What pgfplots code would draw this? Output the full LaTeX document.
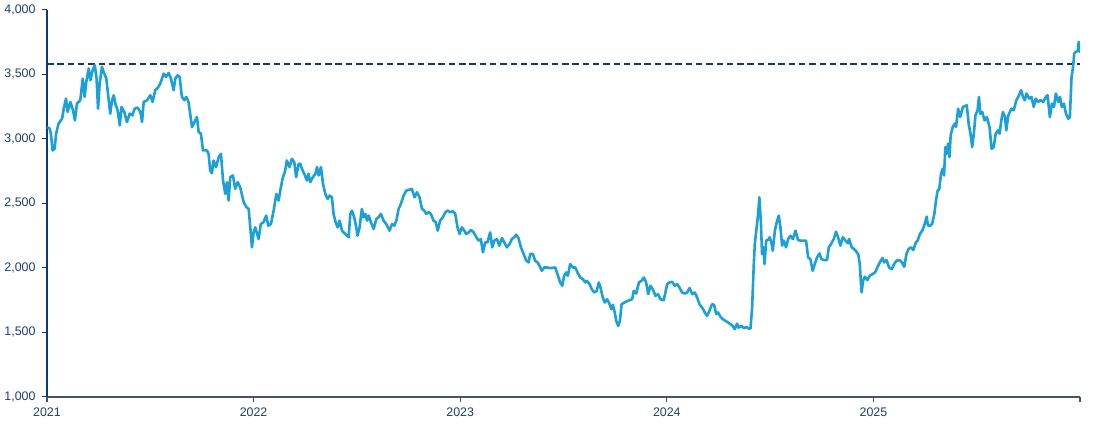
\documentclass[border=0pt]{standalone}
\usepackage{fontspec}
\setmainfont{Liberation Sans}
\usepackage{pgfplots}
\pgfplotsset{compat=1.18}
\definecolor{linecol}{HTML}{1BA1D9}
\definecolor{navy}{HTML}{0E3A7C}
\definecolor{ticktxt}{HTML}{1F3B78}
\definecolor{xaxcol}{HTML}{44546A}

\begin{document}
\begin{tikzpicture}
\begin{axis}[
    scale only axis,
    width=1033pt, height=387pt,
    xmin=0, xmax=5, ymin=1000, ymax=4000,
    axis x line*=bottom, axis y line*=left,
    x axis line style={-, draw=xaxcol, line width=2pt},
    y axis line style={-, draw=navy, line width=1.1pt},
    tick align=outside,
    major tick length=5.5pt,
    x tick style={draw=xaxcol, line width=1.2pt},
    y tick style={draw=navy, line width=1pt},
    xtick={0,1,2,3,4,5},
    xticklabels={2021,2022,2023,2024,2025,{}},
    ytick={1000,1500,2000,2500,3000,3500,4000},
    tick label style={font=\fontsize{12.4}{14}\selectfont, text=ticktxt},
    yticklabel style={xshift=-2.5pt},
    xticklabel style={yshift=-2.5pt},
    /pgf/number format/assume math mode=true,
    /pgf/number format/1000 sep={,},
]
% dashed reference level
\addplot[navy, line width=1.9pt, dash pattern=on 6.5pt off 3.8pt] coordinates {(0,3580) (5,3580)};

% index level (x = years since start of 2021)
\addplot[linecol, line width=2.6pt, line join=round] coordinates {
(0,3090)(.013,3078)(.019,3039)(.027,2909)(.037,2922)(.044,3039)(.056,3117)(.073,3155)(.081,3233)(.092,3311)
(.100,3207)(.113,3285)(.126,3220)(.135,3142)(.145,3272)(.161,3298)(.173,3466)(.182,3324)(.190,3440)(.202,3544)
(.210,3453)(.221,3531)(.231,3570)(.240,3466)(.247,3233)(.255,3427)(.266,3557)(.274,3518)(.287,3466)(.297,3324)
(.306,3194)(.315,3298)(.323,3337)(.331,3272)(.342,3220)(.352,3103)(.361,3246)(.374,3207)(.387,3129)(.400,3194)
(.413,3181)(.424,3233)(.439,3241)(.452,3207)(.460,3129)(.468,3285)(.484,3298)(.500,3337)(.511,3285)(.524,3376)
(.537,3396)(.548,3427)(.565,3505)(.576,3479)(.589,3510)(.600,3466)(.613,3376)(.621,3466)(.632,3492)(.642,3479)
(.653,3324)(.665,3298)(.674,3324)(.685,3285)(.694,3181)(.702,3090)(.718,3142)(.726,3168)(.734,3052)(.745,3039)
(.755,2909)(.774,2909)(.782,2883)(.790,2754)(.798,2733)(.806,2831)(.818,2780)(.831,2857)(.842,2883)(.852,2676)
(.863,2572)(.871,2663)(.879,2521)(.887,2702)(.900,2715)(.911,2611)(.923,2663)(.935,2624)(.952,2508)(.965,2469)
(.976,2456)(.984,2313)(.992,2158)(1.000,2274)(1.008,2313)(1.024,2222)(1.035,2339)(1.048,2352)(1.061,2404)(1.071,2326)
(1.084,2339)(1.097,2443)(1.110,2572)(1.121,2521)(1.129,2598)(1.140,2689)(1.153,2754)(1.161,2831)(1.174,2780)(1.185,2844)
(1.197,2818)(1.206,2702)(1.218,2805)
(1.226,2806)(1.234,2767)(1.245,2728)(1.258,2676)(1.266,2728)(1.274,2663)(1.287,2702)(1.299,2728)(1.307,2780)(1.315,2715)
(1.326,2780)(1.336,2650)(1.347,2572)(1.358,2533)(1.368,2559)(1.379,2546)(1.387,2417)(1.397,2352)(1.407,2313)(1.416,2365)
(1.428,2287)(1.444,2261)(1.460,2236)(1.468,2417)(1.476,2443)(1.487,2391)(1.497,2313)(1.503,2248)(1.513,2313)(1.524,2456)
(1.532,2391)(1.541,2417)(1.549,2365)(1.557,2404)(1.568,2352)(1.581,2300)(1.594,2378)(1.605,2391)(1.616,2417)(1.629,2365)
(1.642,2339)(1.658,2287)(1.670,2339)(1.681,2326)(1.691,2365)(1.702,2456)(1.713,2495)(1.726,2559)(1.739,2598)(1.750,2603)
(1.766,2611)(1.779,2546)(1.791,2585)(1.803,2546)(1.815,2456)(1.826,2443)(1.836,2417)(1.847,2430)(1.858,2417)(1.871,2365)
(1.882,2352)(1.891,2287)(1.903,2365)(1.916,2391)(1.928,2430)(1.939,2443)(1.952,2430)(1.965,2438)(1.976,2417)(1.987,2313)
(1.997,2261)(2.008,2313)(2.020,2287)(2.029,2261)(2.041,2274)(2.052,2292)(2.065,2274)(2.078,2236)(2.089,2210)(2.100,2222)
(2.110,2119)(2.121,2197)(2.132,2197)(2.145,2274)(2.155,2158)(2.165,2210)(2.178,2222)(2.189,2171)(2.202,2230)(2.213,2197)
(2.226,2158)(2.239,2184)(2.250,2222)(2.261,2236)(2.271,2256)(2.282,2230)(2.294,2158)(2.307,2106)(2.320,2054)(2.331,2041)
(2.339,2106)(2.352,2106)(2.363,2054)(2.374,2041)(2.384,2015)(2.395,1976)(2.407,2002)(2.419,2002)(2.439,1997)(2.460,2002)
(2.471,1950)(2.484,1886)(2.494,1860)(2.503,1937)(2.513,1963)(2.521,1937)(2.532,2028)(2.545,2002)(2.557,2002)(2.568,1963)
(2.581,1924)(2.594,1911)(2.605,1886)(2.613,1898)(2.626,1873)(2.637,1834)(2.648,1808)(2.661,1821)
(2.671,1886)(2.679,1847)(2.690,1769)(2.700,1730)(2.711,1756)(2.723,1717)(2.732,1678)(2.739,1712)(2.748,1653)(2.755,1588)
(2.765,1549)(2.773,1588)(2.781,1717)(2.800,1735)(2.819,1748)(2.832,1756)(2.840,1821)(2.852,1800)(2.865,1886)(2.877,1898)
(2.889,1924)(2.900,1886)(2.910,1795)(2.921,1860)(2.932,1834)(2.945,1782)(2.958,1795)(2.969,1756)(2.985,1748)(3.002,1873)
(3.013,1886)(3.026,1891)(3.039,1860)(3.050,1873)(3.061,1847)(3.074,1808)(3.087,1800)(3.098,1808)(3.110,1842)(3.123,1795)
(3.135,1808)(3.147,1769)(3.158,1717)(3.171,1691)(3.184,1653)(3.195,1627)(3.206,1665)(3.219,1717)(3.229,1712)(3.239,1640)
(3.248,1653)(3.260,1619)(3.271,1601)(3.284,1588)(3.297,1575)(3.308,1562)(3.319,1549)(3.329,1523)(3.340,1567)(3.348,1536)
(3.361,1549)(3.373,1531)(3.384,1541)(3.397,1528)(3.405,1528)(3.413,1691)(3.421,2028)(3.426,2184)(3.435,2313)(3.442,2417)
(3.448,2546)(3.455,2365)(3.461,2106)(3.468,2158)(3.473,2028)(3.481,2210)(3.490,2215)(3.498,2236)(3.506,2197)(3.513,2132)
(3.523,2287)(3.532,2352)(3.542,2404)(3.550,2313)(3.558,2171)(3.566,2210)(3.577,2158)(3.587,2222)(3.598,2248)(3.610,2222)
(3.623,2287)(3.635,2215)(3.647,2210)(3.663,2210)(3.674,2210)(3.684,2080)(3.695,2067)(3.706,1976)(3.716,2028)(3.727,2080)
(3.739,2111)(3.748,2067)(3.760,2060)(3.776,2060)(3.784,2158)(3.795,2184)(3.808,2222)(3.819,2279)(3.829,2236)(3.840,2171)
(3.852,2236)(3.865,2210)(3.877,2189)
(3.882,2223)(3.895,2158)(3.906,2145)(3.917,2127)(3.927,2101)(3.934,2028)(3.940,1873)(3.943,1808)(3.950,1899)(3.959,1930)
(3.971,1904)(3.982,1937)(3.995,1950)(4.008,1963)(4.019,2002)(4.031,2041)(4.044,2075)(4.052,2041)(4.063,2060)(4.076,2002)
(4.089,1989)(4.100,2028)(4.112,2054)(4.125,2060)(4.138,2041)(4.149,2007)(4.160,2106)(4.170,2145)(4.182,2158)(4.193,2137)
(4.206,2197)(4.214,2210)(4.225,2261)(4.238,2292)(4.248,2339)(4.258,2396)(4.264,2326)(4.274,2326)(4.284,2339)(4.295,2417)
(4.303,2521)(4.311,2598)(4.319,2611)(4.327,2728)(4.335,2767)(4.342,2715)(4.348,2935)(4.355,2883)(4.361,2961)(4.368,2857)
(4.374,3026)(4.384,3091)(4.394,3117)(4.400,3091)(4.410,3233)(4.420,3168)(4.433,3246)(4.452,3259)(4.462,3103)(4.470,3039)
(4.478,2935)(4.486,3039)(4.494,3181)(4.504,3220)(4.511,3324)(4.517,3194)(4.527,3207)(4.538,3142)(4.549,3168)(4.562,3091)
(4.572,2922)(4.582,2935)(4.592,3039)(4.603,3065)(4.611,3039)(4.619,3142)(4.627,3207)(4.637,3168)(4.643,3065)(4.653,3181)
(4.668,3233)(4.679,3220)(4.692,3298)(4.705,3337)(4.715,3376)(4.724,3324)(4.733,3298)(4.741,3350)(4.754,3311)(4.765,3324)
(4.776,3246)(4.786,3311)(4.797,3285)(4.809,3298)(4.822,3285)(4.835,3324)(4.843,3337)(4.854,3168)(4.864,3272)(4.874,3246)
(4.883,3350)(4.895,3285)(4.903,3324)(4.912,3246)(4.922,3272)(4.932,3194)(4.943,3155)(4.951,3168)(4.955,3324)(4.959,3479)
(4.964,3531)(4.968,3583)(4.972,3660)(4.979,3673)(4.989,3681)(4.994,3751)(5.000,3665)
};
\end{axis}
% page margins around the plotting area
\path (current axis.south west) ++(-47pt,-26.3pt) rectangle ([shift={(20pt,9.7pt)}]current axis.north east);
\end{tikzpicture}
\end{document}
